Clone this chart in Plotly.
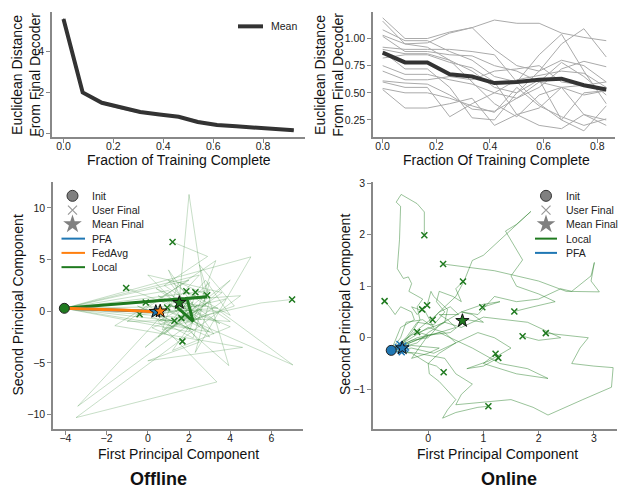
import plotly.graph_objects as go

W, H = 620, 491
FONT = "Liberation Sans, Arial, sans-serif"
GREEN = "#1f7a1f"
BLUE = "#1f77b4"
ORANGE = "#ff7f0e"

# ---------------- data ----------------
# Top-left: offline convergence
tl_x = [k / 13 for k in range(13)]
tl_mean = [5.55, 2.0, 1.5, 1.27, 1.05, 0.93, 0.82, 0.57, 0.42, 0.36, 0.30, 0.23, 0.17]
tl_users = [
    [5.50, 1.95, 1.45, 1.20, 1.00, 0.90, 0.85, 0.65, 0.42, 0.36, 0.31, 0.24, 0.18],
    [5.60, 2.05, 1.55, 1.30, 1.07, 0.95, 0.80, 0.52, 0.40, 0.35, 0.28, 0.22, 0.16],
    [5.50, 2.00, 1.50, 1.22, 1.03, 0.92, 0.84, 0.60, 0.43, 0.37, 0.30, 0.22, 0.15],
    [5.58, 2.02, 1.48, 1.25, 1.06, 0.91, 0.78, 0.55, 0.41, 0.35, 0.29, 0.23, 0.16],
]

# Top-right: online convergence
tr_x = [k / 12 for k in range(11)]
tr_mean = [0.87, 0.78, 0.78, 0.67, 0.65, 0.59, 0.60, 0.62, 0.63, 0.57, 0.53]
tr_users = [
    [1.19, 1.00, 1.00, 1.06, 1.10, 1.17, 1.14, 1.14, 1.05, 1.01, 0.98],
    [1.16, 0.95, 0.96, 1.05, 1.10, 0.90, 0.75, 0.70, 0.95, 1.09, 0.83],
    [1.08, 0.98, 0.98, 0.88, 0.80, 0.65, 0.60, 0.85, 1.04, 0.70, 0.40],
    [1.02, 0.88, 0.88, 0.85, 0.84, 0.75, 0.70, 0.60, 0.55, 0.30, 0.20],
    [0.92, 0.90, 0.90, 0.90, 0.88, 0.85, 0.60, 0.40, 0.25, 0.15, 0.38],
    [0.90, 0.86, 0.86, 0.80, 0.70, 0.55, 0.50, 0.70, 0.80, 0.75, 0.60],
    [0.82, 0.85, 0.85, 0.78, 0.73, 0.60, 0.30, 0.20, 0.17, 0.30, 0.25],
    [0.75, 0.67, 0.67, 0.62, 0.58, 0.50, 0.45, 0.55, 0.72, 0.79, 0.74],
    [0.61, 0.59, 0.58, 0.48, 0.35, 0.33, 0.45, 0.60, 0.78, 0.65, 0.48],
    [0.60, 0.55, 0.55, 0.28, 0.40, 0.50, 0.62, 0.66, 0.70, 0.68, 0.55],
    [0.54, 0.50, 0.50, 0.45, 0.38, 0.32, 0.55, 0.38, 0.28, 0.20, 0.26],
    [0.53, 0.36, 0.36, 0.40, 0.45, 0.20, 0.30, 0.36, 0.55, 0.48, 0.52],
    [0.88, 0.72, 0.72, 0.55, 0.27, 0.25, 0.50, 0.62, 0.25, 0.50, 0.52],
    [1.03, 0.95, 0.92, 0.80, 0.60, 0.40, 0.28, 0.48, 0.55, 0.57, 0.60],
    [0.70, 0.62, 0.62, 0.65, 0.62, 0.70, 0.72, 0.75, 0.60, 0.57, 0.54],
]

# Bottom-left: offline PCA trajectories
off_init = (-4.05, 0.28)
off_users = [
    [(-4.05, 0.28), (2.5, 3.5), (-3.4, -9.2), (1.5, -2.0), (3.8, 1.2), (0.2, -0.5), (2.2, -2.6), (3.0, 2.8),
     (1.6, 0.2), (-1.05, 2.24)],
    [(-4.05, 0.28), (2.8, 0.5), (2.0, 11.3), (1.5, 0.5), (3.5, -1.2), (0.8, 2.5), (2.9, 5.3), (1.2, 6.7)],
    [(-4.05, 0.28), (4.5, 1.5), (-3.48, -10.3), (3.35, -6.85), (0.5, -1.0), (2.2, 0.9), (1.2, -1.6), (-0.1, 0.85)],
    [(-4.05, 0.28), (2.0, 3.0), (-1.6, -1.4), (4.6, -3.5), (0.0, -4.8), (2.5, -3.0), (1.0, 1.0), (3.4, 0.3),
     (-0.4, -0.3)],
    [(-4.05, 0.28), (5.0, 5.26), (2.3, -4.0), (3.0, 1.0), (0.5, -2.5), (2.8, 3.0), (4.0, -0.4), (1.87, 1.93)],
    [(-4.05, 0.28), (3.5, 0.0), (7.04, -5.2), (0.5, 0.5), (3.2, -2.2), (1.0, 4.0), (2.0, -0.5), (2.31, 1.83)],
    [(-4.05, 0.28), (1.5, -1.0), (3.93, -5.26), (2.5, 4.5), (4.2, 0.5), (0.7, -1.8), (1.5, 2.8), (2.88, 1.55)],
    [(-4.05, 0.28), (3.0, 2.0), (-0.13, -3.5), (4.0, 3.0), (1.8, -1.2), (3.0, -0.3), (5.5, 0.8), (7.0, 1.14)],
    [(-4.05, 0.28), (2.0, -2.0), (3.3, 4.9), (-1.0, -1.0), (2.6, -0.8), (0.4, 2.2), (1.9, 0.8), (0.94, 0.35)],
    [(-4.05, 0.28), (4.0, -1.0), (1.0, 3.0), (3.0, -2.5), (-0.5, 0.5), (2.2, -1.8), (0.6, -0.8), (1.29, -0.92)],
    [(-4.05, 0.28), (1.0, 2.0), (2.5, -1.5), (0.0, 3.5), (3.6, 1.8), (0.8, -2.2), (2.4, 0.6), (1.63, -0.67)],
    [(-4.05, 0.28), (3.0, -2.0), (0.5, 1.5), (4.0, -1.5), (1.2, -3.8), (2.6, 0.2), (0.2, -1.6), (1.68, -2.92)],
]
off_local_mean = [(-4.05, 0.28), (2.88, 1.39), (1.9, 1.24), (2.2, -0.99), (1.38, 0.44), (1.45, 0.62), (1.53, 0.82)]
off_pfa_mean = [(-4.05, 0.28), (-1.0, 0.08), (0.39, -0.04)]
off_fedavg_mean = [(-4.05, 0.28), (-1.0, 0.1), (0.3, -0.05), (0.6, 0.0)]
off_star_local = (1.53, 0.82)
off_star_pfa = (0.39, -0.04)
off_star_fedavg = (0.6, 0.0)

# Bottom-right: online PCA trajectories
on_init = (-0.67, -0.245)
on_users = [
    [(-0.67, -0.245), (-0.45, -0.1), (-0.3, 0.1), (-0.15, 0.35), (-0.2, 0.6), (-0.1, 0.75), (-0.35, 0.9),
     (-0.3, 1.05), (-0.36, 1.18), (-0.45, 1.15), (-0.56, 1.34), (-0.52, 1.9), (-0.5, 2.55), (-0.58, 2.63),
     (-0.49, 2.78), (-0.2, 2.6), (-0.07, 2.44), (-0.07, 1.99)],
    [(-0.67, -0.245), (-0.3, -0.05), (0.0, 0.0), (0.2, 0.25), (0.6, 0.5), (0.9, 0.45), (1.2, 0.8), (1.6, 0.7),
     (2.0, 0.75), (2.4, 0.95), (2.6, 0.9), (2.95, 1.2), (3.01, 1.46), (2.95, 1.1), (3.1, 0.89), (2.5, 0.9),
     (2.0, 1.1), (1.2, 1.3), (0.27, 1.43)],
    [(-0.67, -0.245), (-0.4, 0.0), (-0.2, 0.3), (0.1, 0.25), (0.3, 0.5), (0.15, 0.7), (0.2, 0.9), (0.45, 0.8),
     (0.6, 0.7), (0.5, 0.95), (0.63, 1.09)],
    [(-0.67, -0.245), (-0.55, 0.05), (-0.5, 0.2), (-0.25, 0.35), (-0.3, 0.5), (-0.5, 0.6), (-0.6, 0.45),
     (-0.7, 0.6), (-0.79, 0.71)],
    [(-0.67, -0.245), (-0.5, 0.0), (-0.4, 0.3), (-0.1, 0.35), (0.1, 0.2), (-0.05, 0.5), (-0.3, 0.6),
     (-0.2, 0.45), (-0.11, 0.55)],
    [(-0.67, -0.245), (-0.2, -0.1), (0.0, 0.1), (0.3, 0.3), (0.35, 0.55), (0.1, 0.8), (0.05, 0.9), (-0.02, 0.63)],
    [(-0.67, -0.245), (-0.1, 0.0), (0.5, 0.2), (0.35, 0.35), (0.2, 0.45), (0.55, 0.45), (0.4, 0.6),
     (0.2, 0.5), (0.08, 0.35)],
    [(-0.67, -0.245), (0.0, 0.05), (0.4, 0.1), (0.7, 0.35), (1.0, 0.3), (0.8, 0.45), (0.6, 0.5), (1.0, 0.65),
     (1.3, 0.7), (0.98, 0.59)],
    [(-0.67, -0.245), (-0.2, 0.15), (0.1, 0.4), (0.3, 0.6), (0.5, 0.8), (0.65, 1.1), (0.8, 1.5), (1.0, 1.6),
     (1.2, 1.8), (1.5, 2.1), (1.86, 2.45), (1.6, 2.2), (1.4, 2.07), (1.55, 1.8), (1.71, 1.51), (1.5, 1.2),
     (1.6, 1.0), (2.0, 0.85), (2.3, 0.7), (1.9, 0.6), (1.56, 0.51)],
    [(-0.67, -0.245), (-0.2, -0.3), (0.3, -0.4), (0.5, -0.7), (0.8, -0.9), (0.6, -1.1), (0.5, -1.3),
     (1.0, -1.25), (1.5, -1.2), (1.9, -1.35), (2.17, -1.5), (2.8, -1.2), (3.32, -0.96), (3.35, -0.58),
     (3.0, -0.55), (2.6, -0.5), (2.75, -0.2), (2.9, 0.0), (2.5, 0.05), (2.13, 0.09)],
    [(-0.67, -0.245), (-0.3, 0.05), (0.3, 0.3), (0.6, 0.2), (1.0, 0.4), (1.4, 0.35), (1.8, 0.3), (2.1, 0.15),
     (2.4, 0.0), (2.0, -0.05), (1.71, 0.03)],
    [(-0.67, -0.245), (-0.3, -0.15), (0.2, -0.2), (0.0, -0.3), (-0.3, -0.4), (-0.1, -0.1), (0.0, 0.05),
     (-0.2, 0.11)],
    [(-0.67, -0.245), (-0.2, 0.0), (0.2, 0.1), (0.5, -0.05), (0.8, -0.2), (1.3, -0.5), (1.8, -0.6),
     (2.17, -0.79), (1.6, -0.7), (1.0, -0.5), (1.22, -0.31)],
    [(-0.67, -0.245), (-0.3, -0.2), (0.1, -0.3), (0.5, -0.1), (0.9, 0.1), (1.2, 0.0), (1.5, -0.2),
     (1.1, -0.45), (0.7, -0.6), (1.0, -0.55), (1.27, -0.39)],
    [(-0.67, -0.245), (-0.3, 0.0), (0.0, 0.2), (0.3, 0.1), (0.5, -0.1), (0.2, -0.3), (0.0, -0.5),
     (0.15, -0.55), (0.28, -0.67)],
    [(-0.67, -0.245), (-0.3, -0.3), (0.0, -0.5), (0.02, -0.7), (0.2, -0.85), (0.5, -1.2), (0.35, -1.4),
     (0.26, -1.56), (0.5, -1.45), (0.7, -1.4), (0.9, -1.35), (1.09, -1.33)],
]
on_pfa_users = [
    [(-0.67, -0.245), (-0.58, -0.2), (-0.55, -0.18)],
    [(-0.67, -0.245), (-0.56, -0.27), (-0.50, -0.25)],
    [(-0.67, -0.245), (-0.52, -0.19), (-0.45, -0.15)],
    [(-0.67, -0.245), (-0.50, -0.23), (-0.42, -0.22)],
    [(-0.67, -0.245), (-0.55, -0.29), (-0.48, -0.28)],
    [(-0.67, -0.245), (-0.58, -0.15), (-0.52, -0.12)],
    [(-0.67, -0.245), (-0.48, -0.21), (-0.40, -0.19)],
]
on_star_local = (0.62, 0.33)
on_star_pfa = (-0.47, -0.2)

# ---------------- layout helpers ----------------
def dom(l, r, t, b):
    return [l / W, r / W], [1 - b / H, 1 - t / H]

panels = {
    "": dom(52, 305, 7, 134),
    "2": dom(373, 615, 7, 134),
    "3": dom(53, 303, 180, 431),
    "4": dom(373, 617, 180, 431),
}

fig = go.Figure()

def xs(pts):
    return [p[0] for p in pts]

def ys(pts):
    return [p[1] for p in pts]

# Top-left
for u in tl_users:
    fig.add_trace(go.Scatter(x=tl_x, y=u, mode="lines", line=dict(color="#aaaaaa", width=1),
                             xaxis="x", yaxis="y", showlegend=False, hoverinfo="skip"))
fig.add_trace(go.Scatter(x=tl_x, y=tl_mean, mode="lines", line=dict(color="#333333", width=4),
                         xaxis="x", yaxis="y", showlegend=False))

# Top-right
for u in tr_users:
    fig.add_trace(go.Scatter(x=tr_x, y=u, mode="lines", line=dict(color="#aaaaaa", width=1),
                             xaxis="x2", yaxis="y2", showlegend=False, hoverinfo="skip"))
fig.add_trace(go.Scatter(x=tr_x, y=tr_mean, mode="lines", line=dict(color="#333333", width=4),
                         xaxis="x2", yaxis="y2", showlegend=False))

# Bottom-left (offline)
for u in off_users:
    fig.add_trace(go.Scatter(x=xs(u), y=ys(u), mode="lines", line=dict(color="rgba(31,122,31,0.25)", width=1),
                             xaxis="x3", yaxis="y3", showlegend=False, hoverinfo="skip"))
fig.add_trace(go.Scatter(x=[u[-1][0] for u in off_users], y=[u[-1][1] for u in off_users], mode="markers",
                         marker=dict(symbol="x-thin", size=6, line=dict(color=GREEN, width=1.5)),
                         xaxis="x3", yaxis="y3", showlegend=False))
fig.add_trace(go.Scatter(x=xs(off_local_mean), y=ys(off_local_mean), mode="lines",
                         line=dict(color=GREEN, width=3), xaxis="x3", yaxis="y3", showlegend=False))
fig.add_trace(go.Scatter(x=xs(off_pfa_mean), y=ys(off_pfa_mean), mode="lines",
                         line=dict(color=BLUE, width=3), xaxis="x3", yaxis="y3", showlegend=False))
fig.add_trace(go.Scatter(x=xs(off_fedavg_mean), y=ys(off_fedavg_mean), mode="lines",
                         line=dict(color=ORANGE, width=3), xaxis="x3", yaxis="y3", showlegend=False))
fig.add_trace(go.Scatter(x=[off_init[0]], y=[off_init[1]], mode="markers",
                         marker=dict(symbol="circle", size=10, color=GREEN, line=dict(color="#222", width=1)),
                         xaxis="x3", yaxis="y3", showlegend=False))
for st, col in [(off_star_local, GREEN), (off_star_pfa, BLUE), (off_star_fedavg, ORANGE)]:
    fig.add_trace(go.Scatter(x=[st[0]], y=[st[1]], mode="markers",
                             marker=dict(symbol="star", size=10, color=col, line=dict(color="#111", width=1)),
                             xaxis="x3", yaxis="y3", showlegend=False))

# Bottom-right (online)
for u in on_users:
    fig.add_trace(go.Scatter(x=xs(u), y=ys(u), mode="lines", line=dict(color="rgba(31,122,31,0.45)", width=1),
                             xaxis="x4", yaxis="y4", showlegend=False, hoverinfo="skip"))
fig.add_trace(go.Scatter(x=[u[-1][0] for u in on_users], y=[u[-1][1] for u in on_users], mode="markers",
                         marker=dict(symbol="x-thin", size=6, line=dict(color=GREEN, width=1.5)),
                         xaxis="x4", yaxis="y4", showlegend=False))
fig.add_trace(go.Scatter(x=[on_star_local[0]], y=[on_star_local[1]], mode="markers",
                         marker=dict(symbol="star", size=10, color=GREEN, line=dict(color="#111", width=1)),
                         xaxis="x4", yaxis="y4", showlegend=False))
for u in on_pfa_users:
    fig.add_trace(go.Scatter(x=xs(u), y=ys(u), mode="lines", line=dict(color="rgba(31,119,180,0.5)", width=1),
                             xaxis="x4", yaxis="y4", showlegend=False, hoverinfo="skip"))
fig.add_trace(go.Scatter(x=[u[-1][0] for u in on_pfa_users], y=[u[-1][1] for u in on_pfa_users], mode="markers",
                         marker=dict(symbol="x-thin", size=6, line=dict(color=BLUE, width=1.5)),
                         xaxis="x4", yaxis="y4", showlegend=False))
fig.add_trace(go.Scatter(x=[on_init[0]], y=[on_init[1]], mode="markers",
                         marker=dict(symbol="circle", size=10, color=BLUE, line=dict(color="#222", width=1)),
                         xaxis="x4", yaxis="y4", showlegend=False))
fig.add_trace(go.Scatter(x=[on_star_pfa[0]], y=[on_star_pfa[1]], mode="markers",
                         marker=dict(symbol="star", size=10, color=BLUE, line=dict(color="#111", width=1)),
                         xaxis="x4", yaxis="y4", showlegend=False))

# ---------------- manual legends in a pixel-space overlay ----------------
legend_rows_bl = [("Init", "circle"), ("User Final", "x"), ("Mean Final", "star"),
                  ("PFA", BLUE), ("FedAvg", ORANGE), ("Local", GREEN)]
legend_rows_br = [("Init", "circle"), ("User Final", "x"), ("Mean Final", "star"),
                  ("Local", GREEN), ("PFA", BLUE)]
annotations = []

def add_legend(rows, sx, lx0, lx1, tx, y0, dy):
    for i, (label, kind) in enumerate(rows):
        y = y0 + i * dy
        if kind == "circle":
            fig.add_trace(go.Scatter(x=[sx], y=[y], mode="markers", xaxis="x5", yaxis="y5", showlegend=False,
                                     marker=dict(symbol="circle", size=11, color="#808080",
                                                 line=dict(color="#333", width=1))))
        elif kind == "x":
            fig.add_trace(go.Scatter(x=[sx], y=[y], mode="markers", xaxis="x5", yaxis="y5", showlegend=False,
                                     marker=dict(symbol="x-thin", size=9, line=dict(color="#999999", width=1.2))))
        elif kind == "star":
            fig.add_trace(go.Scatter(x=[sx], y=[y], mode="markers", xaxis="x5", yaxis="y5", showlegend=False,
                                     marker=dict(symbol="star", size=14, color="#808080", line=dict(width=0))))
        else:
            fig.add_trace(go.Scatter(x=[lx0, lx1], y=[y, y], mode="lines", xaxis="x5", yaxis="y5",
                                     showlegend=False, line=dict(color=kind, width=2)))
        annotations.append(dict(x=tx, y=y, xref="x5", yref="y5", text=label, showarrow=False,
                                xanchor="left", yanchor="middle", font=dict(family=FONT, size=10.5, color="#222")))

add_legend(legend_rows_bl, 72.5, 61.5, 85, 90, 194, 14.5)
add_legend(legend_rows_br, 546, 535, 557, 563.5, 194, 14.5)
fig.add_trace(go.Scatter(x=[238, 263], y=[21.7, 21.7], mode="lines", xaxis="x5", yaxis="y5",
                         showlegend=False, line=dict(color="#333333", width=4)))
annotations.append(dict(x=268.5, y=21.7, xref="x5", yref="y5", text="Mean", showarrow=False,
                        xanchor="left", yanchor="middle", font=dict(family=FONT, size=10.5, color="#222")))

# axis titles and panel titles
def ann(x, y, text, size=14, angle=0, bold=False):
    annotations.append(dict(x=x, y=y, xref="x5", yref="y5", text=f"<b>{text}</b>" if bold else text,
                            showarrow=False, xanchor="center", yanchor="middle", textangle=angle,
                            font=dict(family=FONT, size=size, color="#111")))

ann(178.5, 158, "Fraction of Training Complete")
ann(496, 158, "Fraction Of Training Complete")
ann(26, 71, "Euclidean Distance<br>From Final Decoder", angle=-90)
ann(329, 71, "Euclidean Distance<br>From Final Decoder", angle=-90)
ann(178, 456, "First Principal Component")
ann(497, 456, "First Principal Component")
ann(18.5, 305, "Second Principal Component", angle=-90)
ann(345, 305, "Second Principal Component", angle=-90)
ann(158, 482, "Offline", size=18, bold=True)
ann(509, 482, "Online", size=18, bold=True)

axis_style = dict(showline=True, linecolor="#888888", linewidth=1.5, ticks="outside", ticklen=4,
                  tickwidth=1.2, tickcolor="#888888", showgrid=False, zeroline=False,
                  tickfont=dict(family=FONT, size=10.5, color="#222"), fixedrange=True)

layout = dict(
    width=W, height=H, margin=dict(l=0, r=0, t=0, b=0),
    paper_bgcolor="white", plot_bgcolor="rgba(0,0,0,0)", showlegend=False,
    font=dict(family=FONT),
    annotations=annotations,
)

ranges = {
    "": ([-0.046, 0.968], [-0.15, 5.9], [0, 0.2, 0.4, 0.6, 0.8], [0, 2, 4], ["0.0", "0.2", "0.4", "0.6", "0.8"], None),
    "2": ([-0.036, 0.866], [0.095, 1.245], [0, 0.2, 0.4, 0.6, 0.8], [0.25, 0.5, 0.75, 1.0],
          ["0.0", "0.2", "0.4", "0.6", "0.8"], ["0.25", "0.50", "0.75", "1.00"]),
    "3": ([-4.6, 7.53], [-11.4, 12.5], [-4, -2, 0, 2, 4, 6], [-10, -5, 0, 5, 10], None, None),
    "4": ([-1.0, 3.42], [-1.77, 3.02], [0, 1, 2, 3], [-1, 0, 1, 2, 3], None, None),
}
for k, (xd, yd) in panels.items():
    xr, yr, xt, yt, xtt, ytt = ranges[k]
    xa = dict(axis_style, domain=xd, range=xr, anchor="y" + k, tickvals=xt, ticklabelstandoff=-5)
    ya = dict(axis_style, domain=yd, range=yr, anchor="x" + k, tickvals=yt)
    if xtt:
        xa["ticktext"] = xtt
    if ytt:
        ya["ticktext"] = ytt
    layout["xaxis" + k] = xa
    layout["yaxis" + k] = ya

layout["xaxis5"] = dict(domain=[0, 1], range=[0, W], visible=False, fixedrange=True, anchor="y5")
layout["yaxis5"] = dict(domain=[0, 1], range=[H, 0], visible=False, fixedrange=True, anchor="x5")

fig.update_layout(**layout)
fig.write_html("out.html")
